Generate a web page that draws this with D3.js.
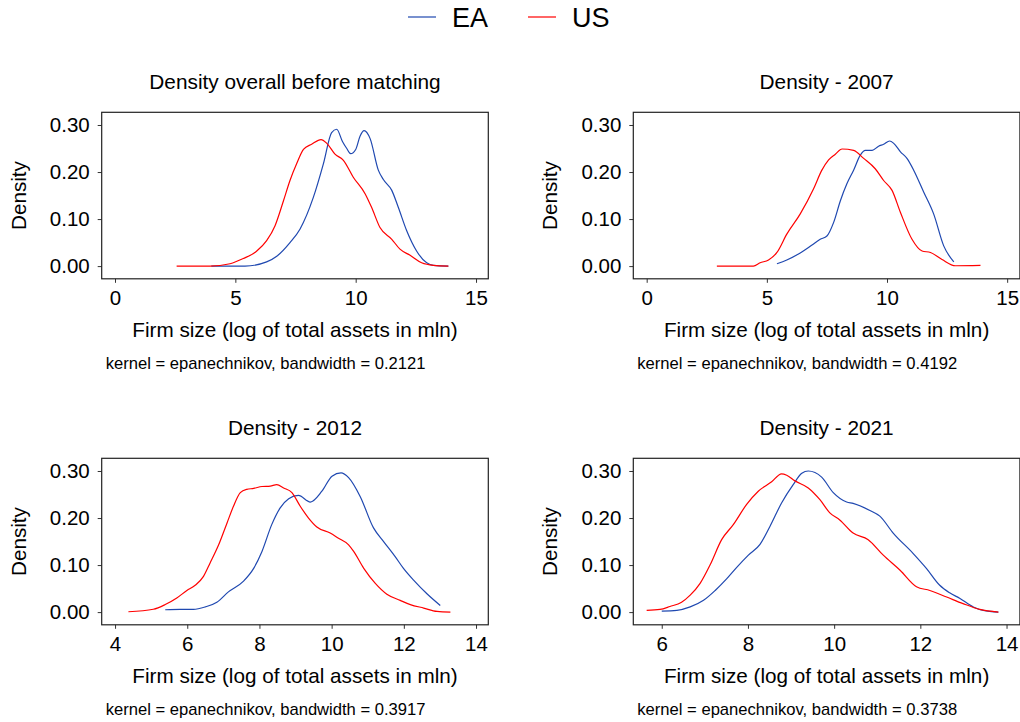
<!DOCTYPE html>
<html>
<head>
<meta charset="utf-8">
<script src="https://cdn.jsdelivr.net/npm/d3@7"></script>
<style>
  body { margin: 0; background: #fff; }
  svg { display: block; font-family: "Liberation Sans", Arial, sans-serif; }
</style>
</head>
<body>
<svg id="chart" width="1020" height="722"></svg>
<script>
// density estimates: [firm size, density]
var ea_overall = [[4.0,0],[5.4,0],[6.3,0.009],[6.72,0.021],[7.27,0.05],[7.69,0.079],[8.24,0.146],[8.66,0.218],[9.0,0.284],[9.21,0.291],[9.45,0.265],[9.63,0.25],[9.79,0.239],[10.0,0.248],[10.18,0.276],[10.35,0.288],[10.6,0.271],[10.94,0.204],[11.15,0.184],[11.5,0.161],[11.77,0.125],[12.12,0.075],[12.53,0.032],[12.95,0.007],[13.23,0.0015],[13.85,0]];
var us_overall = [[2.56,0],[3.95,0],[4.78,0.005],[5.33,0.016],[5.89,0.032],[6.3,0.054],[6.65,0.086],[7.0,0.139],[7.27,0.182],[7.55,0.218],[7.83,0.248],[8.17,0.259],[8.56,0.269],[8.8,0.261],[9.14,0.238],[9.49,0.225],[9.9,0.189],[10.39,0.154],[10.66,0.125],[11.01,0.082],[11.5,0.057],[11.84,0.036],[12.26,0.023],[12.74,0.007],[13.23,0.0015],[13.85,0]];

var ea_2007 = [[5.42,0.005],[5.83,0.013],[6.39,0.028],[6.88,0.045],[7.22,0.057],[7.5,0.064],[7.78,0.093],[8.06,0.139],[8.33,0.175],[8.61,0.204],[8.89,0.236],[9.1,0.246],[9.38,0.246],[9.65,0.255],[9.86,0.259],[10.11,0.266],[10.28,0.261],[10.56,0.243],[10.83,0.229],[11.11,0.204],[11.53,0.157],[11.94,0.111],[12.36,0.043],[12.78,0.009]];
var us_2007 = [[2.92,0],[4.44,0],[4.72,0.007],[5.07,0.013],[5.42,0.029],[5.83,0.068],[6.39,0.111],[6.94,0.164],[7.29,0.204],[7.57,0.226],[7.85,0.238],[8.13,0.249],[8.61,0.246],[9.03,0.229],[9.51,0.207],[9.86,0.182],[10.21,0.161],[10.56,0.114],[11.04,0.057],[11.46,0.032],[11.81,0.029],[12.29,0.014],[12.85,0.0007],[13.89,0.0015]];

var ea_2012 = [[5.39,0.005],[5.8,0.0057],[6.17,0.0057],[6.5,0.011],[6.82,0.021],[7.14,0.043],[7.56,0.066],[7.84,0.093],[8.07,0.129],[8.34,0.186],[8.57,0.221],[8.81,0.241],[9.08,0.248],[9.41,0.234],[9.73,0.257],[10.01,0.289],[10.26,0.296],[10.47,0.286],[10.79,0.246],[11.16,0.179],[11.44,0.15],[11.76,0.118],[11.99,0.093],[12.27,0.068],[12.64,0.039],[13.01,0.014]];
var us_2012 = [[4.37,0.0007],[5.06,0.006],[5.39,0.016],[5.71,0.03],[5.99,0.046],[6.22,0.057],[6.45,0.076],[6.63,0.104],[6.87,0.143],[7.1,0.189],[7.28,0.225],[7.47,0.254],[7.65,0.261],[7.84,0.263],[8.07,0.267],[8.3,0.268],[8.48,0.271],[8.67,0.264],[8.9,0.254],[9.13,0.225],[9.36,0.2],[9.59,0.181],[9.96,0.168],[10.19,0.157],[10.47,0.143],[10.61,0.129],[10.89,0.093],[11.21,0.061],[11.53,0.038],[11.9,0.025],[12.18,0.016],[12.55,0.0086],[12.92,0.0014],[13.29,0]];

var ea_2021 = [[6.0,0.002],[6.35,0.0036],[6.66,0.011],[6.97,0.025],[7.24,0.046],[7.51,0.071],[7.74,0.095],[8.01,0.121],[8.28,0.144],[8.51,0.182],[8.78,0.232],[9.05,0.271],[9.25,0.295],[9.4,0.3],[9.71,0.287],[9.98,0.254],[10.29,0.234],[10.44,0.231],[10.83,0.216],[11.06,0.204],[11.37,0.168],[11.83,0.125],[12.14,0.093],[12.45,0.057],[12.68,0.041],[12.92,0.029],[13.23,0.011],[13.46,0.0036],[13.81,0]];
var us_2021 = [[5.65,0.0036],[5.96,0.0057],[6.19,0.012],[6.46,0.021],[6.66,0.036],[6.89,0.061],[7.12,0.1],[7.39,0.154],[7.66,0.186],[7.97,0.229],[8.24,0.257],[8.55,0.277],[8.78,0.294],[8.9,0.291],[9.09,0.279],[9.4,0.264],[9.67,0.239],[9.9,0.211],[10.13,0.196],[10.44,0.168],[10.79,0.154],[11.14,0.121],[11.53,0.089],[11.91,0.054],[12.22,0.046],[12.61,0.032],[12.99,0.018],[13.38,0.0057],[13.81,0]];

var panelTitles = ["Density overall before matching", "Density - 2007", "Density - 2012", "Density - 2021"];
var bandwidths = ["0.2121", "0.4192", "0.3917", "0.3738"];
var xTicks = [[0, 5, 10, 15], [0, 5, 10, 15], [4, 6, 8, 10, 12, 14], [6, 8, 10, 12, 14]];
var yTicks = [0, 0.1, 0.2, 0.3];
var seriesNames = ["EA", "US"];
var seriesColors = ["#1f48b0", "#ff0000"];

var eaData = [ea_overall, ea_2007, ea_2012, ea_2021];
var usData = [us_overall, us_2007, us_2012, us_2021];

// panel frames
var panels = [
    {left: 101.7, top: 112.3, xdom: [-0.553, 15.51]},
    {left: 633.3, top: 112.3, xdom: [-0.557, 15.53]},
    {left: 101.7, top: 458.3, xdom: [3.63, 14.34]},
    {left: 633.3, top: 458.3, xdom: [5.34, 14.31]}
];
var pw = 386.6, ph = 166.5;

var svg = d3.select("#chart");

// legend
var legend = svg.append("g");
var legX = [408, 528];
seriesNames.forEach(function(name, i) {
    legend.append("line")
        .attr("x1", legX[i]).attr("x2", legX[i] + 28)
        .attr("y1", 17).attr("y2", 17)
        .attr("stroke", seriesColors[i]).attr("stroke-width", 1.2);
    legend.append("text")
        .attr("x", legX[i] + 44).attr("y", 27)
        .attr("font-size", 27).attr("fill", "#000")
        .text(name);
});

panels.forEach(function(p, i) {
    var g = svg.append("g").attr("transform", "translate(" + p.left + "," + p.top + ")");

    var x = d3.scaleLinear().domain(p.xdom).range([0, pw]);
    var y = d3.scaleLinear().domain([-0.027, 0.327]).range([ph, 0]);

    g.append("text")
        .attr("x", pw / 2).attr("y", -23)
        .attr("text-anchor", "middle")
        .attr("font-size", 20.8)
        .text(panelTitles[i]);

    var xAxis = d3.axisBottom(x).tickValues(xTicks[i]).tickSize(4).tickPadding(8)
        .tickFormat(d3.format("d"));
    var gx = g.append("g").attr("transform", "translate(0," + ph + ")").call(xAxis);
    gx.select(".domain").remove();
    gx.selectAll("text").attr("font-size", 20.5).attr("fill", "#000")
        .attr("font-family", "Liberation Sans, Arial, sans-serif");
    gx.selectAll("line").attr("stroke", "#333");

    var yAxis = d3.axisLeft(y).tickValues(yTicks).tickSize(4).tickPadding(8)
        .tickFormat(d3.format(".2f"));
    var gy = g.append("g").call(yAxis);
    gy.select(".domain").remove();
    gy.selectAll("text").attr("font-size", 20.5).attr("fill", "#000")
        .attr("font-family", "Liberation Sans, Arial, sans-serif");
    gy.selectAll("line").attr("stroke", "#333");

    g.append("rect")
        .attr("x", 0).attr("y", 0).attr("width", pw).attr("height", ph)
        .attr("fill", "none").attr("stroke", "#222").attr("stroke-width", 1.2);

    var line = d3.line()
        .x(function(d) { return x(d[0]); })
        .y(function(d) { return y(d[1]); })
        .curve(d3.curveMonotoneX);

    g.append("path").datum(eaData[i])
        .attr("d", line).attr("fill", "none")
        .attr("stroke", seriesColors[0]).attr("stroke-width", 1.2);
    g.append("path").datum(usData[i])
        .attr("d", line).attr("fill", "none")
        .attr("stroke", seriesColors[1]).attr("stroke-width", 1.2);

    g.append("text")
        .attr("x", pw / 2).attr("y", ph + 58)
        .attr("text-anchor", "middle")
        .attr("font-size", 20.7)
        .text("Firm size (log of total assets in mln)");

    g.append("text")
        .attr("transform", "translate(" + (-76) + "," + (ph / 2) + ") rotate(-90)")
        .attr("text-anchor", "middle")
        .attr("font-size", 20.7)
        .text("Density");

    g.append("text")
        .attr("x", 4).attr("y", ph + 90)
        .attr("font-size", 16.6)
        .text("kernel = epanechnikov, bandwidth = " + bandwidths[i]);
});
</script>
</body>
</html>
